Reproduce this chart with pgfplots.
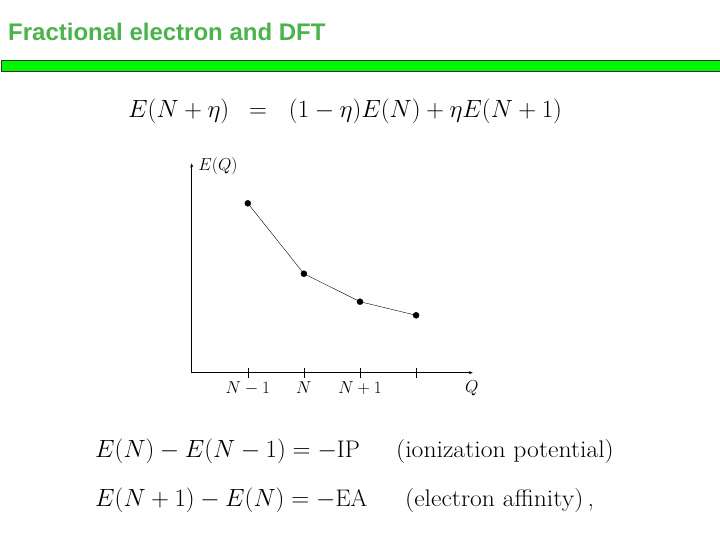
\documentclass[border=0pt]{standalone}
\usepackage{pgfplots}
\pgfplotsset{compat=1.18}
\usepackage{fontspec}
\newfontfamily\titlefont{Liberation Sans}
\usetikzlibrary{arrows.meta}
\definecolor{titlegreen}{RGB}{76,178,76}
\definecolor{bargreen}{RGB}{0,245,0}
\newcommand{\eqmath}[1]{{\fontsize{24}{28}\selectfont #1}}
\newcommand{\eqtext}[1]{\scalebox{1.07}[1]{\fontsize{24}{28}\selectfont #1}}

\begin{document}
\begin{tikzpicture}[x=1pt,y=1pt]
\useasboundingbox[fill=white] (0,0) rectangle (720,-540);
% slide title and bar
\node[anchor=base west, inner sep=0, text=titlegreen]
  at (8,-41) {\titlefont\bfseries\fontsize{24}{27}\selectfont Fractional electron and DFT};
\draw[fill=bargreen, draw=black!80, line width=0.8pt] (1,-60) rectangle (722,-71);
% top equation
\node[anchor=base west, inner sep=0] at (128,-118)
  {\eqmath{$E(N+\eta)\hspace{13pt}=\hspace{15pt}(1-\eta)E(N)+\eta E(N+1)$}};

\begin{axis}[
  at={(191.7pt,-372.7pt)}, anchor=south west,
  scale only axis, x=56.1pt, y=10pt,
  xmin=0, xmax=5.01, ymin=0, ymax=20.94,
  axis lines=left,
  axis line style={line width=0.6pt, -{Stealth[length=4pt,width=3pt]}},
  ytick=\empty,
  xtick={1,2,3,4}, xticklabels={$N-1$,$N$,$N+1$,{}},
  tick align=center, major tick length=10pt,
  tick style={black, line width=0.6pt},
  tick label style={font=\fontsize{16.5}{18}\selectfont},
  clip=false]
\addplot[black, line width=0.4pt, mark=*, mark size=3pt] coordinates {
  (1,16.94) (2,9.90) (3,7.10) (4,5.74)};
\end{axis}
\node[inner sep=0, font=\fontsize{16.5}{18}\selectfont] at (218,-166) {$E(Q)$};
\node[inner sep=0, font=\fontsize{16.5}{18}\selectfont] at (471.7,-388.3) {$Q$};

% bottom equations
\node[anchor=base west, inner sep=0] at (95,-457)
  {\eqmath{$E(N)-E(N-1)=-\mathrm{IP}$}};
\node[anchor=base west, inner sep=0] at (396,-457)
  {\eqtext{(ionization potential)}};
\node[anchor=base west, inner sep=0] at (95,-506)
  {\eqmath{$E(N+1)-E(N)=-\mathrm{EA}$}};
\node[anchor=base west, inner sep=0] at (405,-506)
  {\eqtext{(electron affinity)\,,}};
\end{tikzpicture}
\end{document}
